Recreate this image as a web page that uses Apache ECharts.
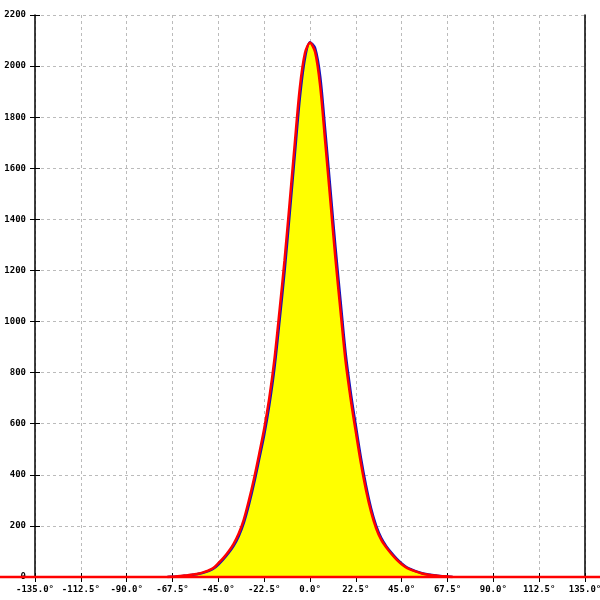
<!DOCTYPE html>
<html>
<head>
<meta charset="utf-8">
<script src="https://cdn.jsdelivr.net/npm/echarts@6/dist/echarts.min.js"></script>
<style>html,body{margin:0;padding:0;background:#fff}#c{width:600px;height:600px}</style>
</head>
<body>
<div id="c"></div>
<script>
var angles = [-70,-67.5,-65,-62.5,-60,-57.5,-55,-52.5,-50,-47.5,-45,-42.5,-40,-37.5,-35,-32.5,-30,-27.5,-25,-22.5,-20,-17.5,-15,-12.5,-10,-7.5,-5,-2.5,0,2.5,5,7.5,10,12.5,15,17.5,20,22.5,25,27.5,30,32.5,35,37.5,40,42.5,45,47.5,50,52.5,55,57.5,60,62.5,65,67.5,70];
var histValues = [0,1,3,5,7,10,13,18,25,35,54,75,100,130,170,225,300,385,480,580,700,850,1040,1240,1465,1695,1915,2050,2091,2055,1922,1700,1473,1245,1040,842,695,567,445,340,255,190,145,115,90,68,50,36,27,20,14,10,7,5,3,2,0];
var fitValues = [0,1,2,4,6,9,12,16,23,32,49,70,94,122,160,212,283,366,460,556,672,815,1000,1195,1420,1650,1875,2030,2093,2070,1960,1745,1518,1290,1080,875,722,592,466,358,268,200,152,120,95,72,53,38,29,21,15,11,8,5,3,2,0];
var baselineEnds = [-180, 180];
var xTicks = {min: -135, max: 135, step: 22.5};
var yTicks = {min: 0, max: 2200, step: 200};

var histData = angles.map(function (a, i) { return [a, histValues[i]]; });
var fitData = angles.map(function (a, i) { return [a, fitValues[i]]; });
var baselineData = baselineEnds.map(function (a) { return [a, 0]; });

var font = 'DejaVu Sans Mono';
var chart = echarts.init(document.getElementById('c'));
chart.setOption({
  animation: false,
  backgroundColor: '#fff',
  grid: [
    {left: 35, right: 15, top: 15, bottom: 23, containLabel: false, outerBoundsMode: 'none'},
    {left: 0, right: 0, top: 15, bottom: 23, containLabel: false, outerBoundsMode: 'none'}
  ],
  xAxis: [{
    type: 'value', min: xTicks.min, max: xTicks.max, interval: xTicks.step,
    axisLine: {show: true, onZero: false, lineStyle: {color: '#000', width: 1}},
    axisTick: {show: true, length: 5, lineStyle: {color: '#000'}},
    axisLabel: {formatter: function (v) { return v.toFixed(1) + '°'; }, fontFamily: font, fontSize: 9, fontWeight: 'bold', color: '#000', margin: 8},
    splitLine: {show: true, lineStyle: {type: [3, 3], color: '#bbb'}}
  }, {
    type: 'value', position: 'bottom', min: xTicks.min, max: xTicks.max, interval: xTicks.step,
    axisLine: {show: false, onZero: false}, axisTick: {show: true, inside: true, length: 4, lineStyle: {color: '#000'}},
    axisLabel: {show: false}, splitLine: {show: false}
  }, {
    type: 'value', gridIndex: 1, min: baselineEnds[0], max: baselineEnds[1], show: false
  }],
  yAxis: [{
    type: 'value', min: yTicks.min, max: yTicks.max, interval: yTicks.step,
    axisLine: {show: true, onZero: false, lineStyle: {color: '#000', width: 1.5}},
    axisTick: {show: true, length: 5, lineStyle: {color: '#000'}},
    axisLabel: {formatter: function (v) { return String(v); }, fontFamily: font, fontSize: 9, fontWeight: 'bold', color: '#000', margin: 9},
    splitLine: {show: true, lineStyle: {type: [3, 3], color: '#bbb'}}
  }, {
    type: 'value', position: 'left', min: yTicks.min, max: yTicks.max, interval: yTicks.step,
    axisLine: {show: false, onZero: false}, axisTick: {show: true, inside: true, length: 5, lineStyle: {color: '#000'}},
    axisLabel: {show: false}, splitLine: {show: false}
  }, {
    type: 'value', position: 'right', min: yTicks.min, max: yTicks.max, interval: yTicks.step,
    axisLine: {show: true, onZero: false, lineStyle: {color: '#000', width: 1.5}}, axisTick: {show: false},
    axisLabel: {show: false}, splitLine: {show: false}
  }, {
    type: 'value', gridIndex: 1, min: yTicks.min, max: yTicks.max, show: false
  }],
  series: [{
    type: 'line', data: histData, symbol: 'none', smooth: 0.3,
    lineStyle: {width: 0}, areaStyle: {color: '#ffff00', opacity: 1}, z: 2
  }, {
    type: 'line', data: fitData, symbol: 'none', smooth: 0.3,
    lineStyle: {color: '#1010c0', width: 2.5}, z: 3
  }, {
    type: 'line', data: baselineData, xAxisIndex: 2, yAxisIndex: 3, symbol: 'none', clip: false,
    lineStyle: {color: '#ff0000', width: 2.5}, z: 4
  }, {
    type: 'line', data: histData, symbol: 'none', smooth: 0.3,
    lineStyle: {color: '#ff0000', width: 2.5}, z: 5
  }]
});
</script>
</body>
</html>
